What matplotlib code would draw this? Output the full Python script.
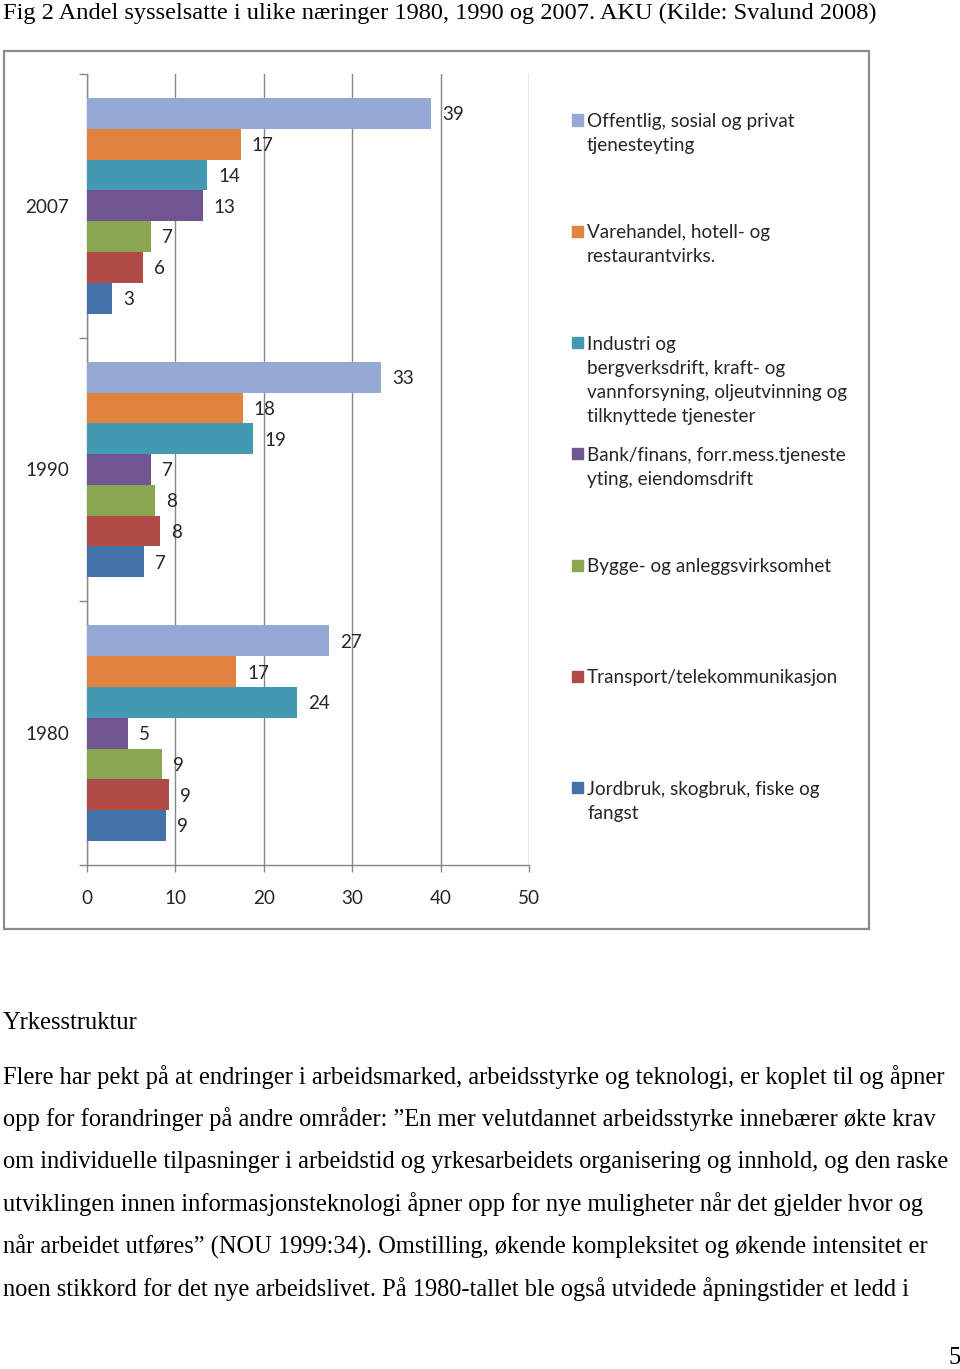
import matplotlib.pyplot as plt
import numpy as np
from matplotlib.patches import Rectangle

# data (bar lengths) and the printed labels
years = ['1980', '1990', '2007']
sectors = [
    'Offentlig, sosial og privat\ntjenesteyting',
    'Varehandel, hotell- og\nrestaurantvirks.',
    'Industri og\nbergverksdrift, kraft- og\nvannforsyning, oljeutvinning og\ntilknyttede tjenester',
    'Bank/finans, forr.mess.tjeneste\nyting, eiendomsdrift',
    'Bygge- og anleggsvirksomhet',
    'Transport/telekommunikasjon',
    'Jordbruk, skogbruk, fiske og\nfangst',
]
# rows follow sectors, columns follow years
values = np.array([
    [27.4, 33.3, 38.9],
    [16.9, 17.6, 17.4],
    [23.8, 18.8, 13.6],
    [4.6, 7.2, 13.1],
    [8.5, 7.7, 7.2],
    [9.3, 8.3, 6.3],
    [8.9, 6.4, 2.8],
])
labels = [
    ['27', '33', '39'],
    ['17', '18', '17'],
    ['24', '19', '14'],
    ['5', '7', '13'],
    ['9', '8', '7'],
    ['9', '8', '6'],
    ['9', '7', '3'],
]
colors = ['#94AAD4', '#E0833F', '#4398B2', '#715592', '#8BA650', '#B14B47', '#4571A9']

title = 'Fig 2 Andel sysselsatte i ulike næringer 1980, 1990 og 2007. AKU (Kilde: Svalund 2008)'
heading = 'Yrkesstruktur'
body = [
    'Flere har pekt på at endringer i arbeidsmarked, arbeidsstyrke og teknologi, er koplet til og åpner',
    'opp for forandringer på andre områder: ”En mer velutdannet arbeidsstyrke innebærer økte krav',
    'om individuelle tilpasninger i arbeidstid og yrkesarbeidets organisering og innhold, og den raske',
    'utviklingen innen informasjonsteknologi åpner opp for nye muligheter når det gjelder hvor og',
    'når arbeidet utføres” (NOU 1999:34). Omstilling, økende kompleksitet og økende intensitet er',
    'noen stikkord for det nye arbeidslivet. På 1980-tallet ble også utvidede åpningstider et ledd i',
]

W, H = 960, 1369
fig = plt.figure(figsize=(W / 100, H / 100), dpi=100)
fig.patch.set_facecolor('white')

def fx(px):
    return px / W

def fy(py):
    return 1 - py / H

# chart frame
fig.patches.append(Rectangle((fx(4), fy(929)), fx(869) - fx(4), fy(51) - fy(929),
                             transform=fig.transFigure, fill=False,
                             edgecolor='#8c8c8c', linewidth=1.6))

ax = fig.add_axes([fx(87), fy(865), fx(529) - fx(87), fy(74) - fy(865)])
grid_c = '#868686'
text_c = '#262626'
cfont = 'Lato'
fs = 13.6

h = 0.1167
n = len(sectors)
for i in range(n):
    ypos = np.arange(len(years)) + 0.5 + (3 - i) * h
    ax.barh(ypos, values[i], height=h, color=colors[i], edgecolor='none', zorder=3)
    for j in range(len(years)):
        ax.annotate(labels[i][j], (values[i][j], ypos[j]), xytext=(8, -1),
                    textcoords='offset points', va='center', ha='left',
                    fontsize=fs, family=cfont, color=text_c, zorder=4)

ax.set_xlim(0, 50)
ax.set_ylim(0, 3)
ax.set_xticks(np.arange(0, 51, 10))
ax.set_yticks([0, 1, 2, 3])
ax.set_yticklabels([])
ax.set_yticks([0.5, 1.5, 2.5], minor=True)
ax.set_yticklabels(years, minor=True)
ax.tick_params(axis='y', which='minor', length=0, pad=13, labelsize=fs, labelcolor=text_c)
ax.tick_params(axis='y', which='major', length=6, color=grid_c, width=1)
ax.tick_params(axis='x', length=5, color=grid_c, width=1, pad=13, labelsize=fs, labelcolor=text_c)
for lab in ax.get_xticklabels() + ax.get_yticklabels(minor=True):
    lab.set_family(cfont)
ax.xaxis.grid(True, color=grid_c, linewidth=1, zorder=0)
for s in ['top', 'right']:
    ax.spines[s].set_visible(False)
for s in ['left', 'bottom']:
    ax.spines[s].set_color(grid_c)
    ax.spines[s].set_linewidth(1)

# legend drawn entry by entry at even spacing
for i, name in enumerate(sectors):
    y0 = 120 + i * 111.3
    fig.patches.append(Rectangle((fx(572), fy(y0 + 5.5)), fx(11), 11 / H,
                                 transform=fig.transFigure, color=colors[i]))
    fig.text(fx(587), fy(y0 - 7), name, ha='left', va='top', fontsize=fs,
             family=cfont, color=text_c, linespacing=1.5)

# document text around the chart
def fit(t, target):
    r = fig.canvas.get_renderer()
    w = t.get_window_extent(r).width
    t.set_fontsize(t.get_fontsize() * target / w)
    return t.get_fontsize()

serif = 'Liberation Serif'
t = fig.text(fx(3), fy(13), title, ha='left', va='center', fontsize=16, family=serif)
fit(t, 877)

t0 = fig.text(fx(3), fy(1077), body[0], ha='left', va='center', fontsize=16, family=serif)
bs = fit(t0, 942)
for k, line in enumerate(body[1:], start=1):
    fig.text(fx(3), fy(1077 + k * 42.4), line, ha='left', va='center', fontsize=bs, family=serif)
fig.text(fx(3), fy(1023), heading, ha='left', va='center', fontsize=bs, family=serif)
fig.text(fx(948), fy(1358), '5', ha='left', va='center', fontsize=bs, family=serif)

fig.savefig('out.png', dpi=100, facecolor='white')
